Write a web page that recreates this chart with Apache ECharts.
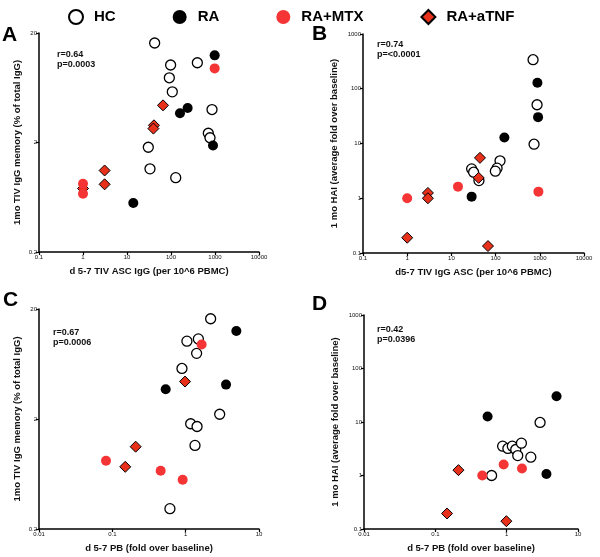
<!DOCTYPE html>
<html>
<head>
<meta charset="utf-8">
<script src="https://cdn.jsdelivr.net/npm/echarts@6/dist/echarts.min.js"></script>
<style>
  html, body { margin: 0; padding: 0; background: #fff; }
  #chart { width: 600px; height: 557px; }
</style>
</head>
<body>
<div id="chart"></div>
<script>
// group names (legend order)
const groups = ["HC", "RA", "RA+MTX", "RA+aTNF"];

// Panel A: ASC IgG (x) vs IgG memory % (y)
const aHC = [[42.5, 16.2], [98, 10.2], [91.6, 7.8], [107, 5.8], [397, 10.7], [855, 4.0],
  [705, 2.43], [770, 2.21], [30.5, 1.81], [33.3, 1.15], [128, 0.955]];
const aRA = [[983, 12.5], [160, 3.7], [239, 4.13], [901, 1.88], [13.9, 0.56]];
const aMTX = [[983, 9.5], [1, 0.84], [1, 0.68]];
const aTNF = [[65.8, 4.37], [41, 2.87], [39.8, 2.68], [3.1, 1.11], [3.1, 0.83], [1, 0.76]];

// Panel B: ASC IgG (x) vs HAI fold (y)
const bHC = [[704, 339], [867, 51], [741, 9.7], [28.7, 3.44], [31.8, 2.99], [42, 2.1],
  [126, 4.82], [108, 3.54], [98.6, 3.12]];
const bRA = [[883, 129], [914, 30.3], [158, 12.9], [28.7, 1.07]];
const bMTX = [[1, 1.0], [14.1, 1.63], [930, 1.32]];
const bTNF = [[44.3, 5.47], [41.3, 2.36], [2.94, 1.25], [2.94, 1.0], [1, 0.19], [67.3, 0.134]];

// Panel C: PB fold (x) vs IgG memory % (y)
const cHC = [[2.19, 16.3], [1.04, 10.2], [1.49, 10.7], [1.41, 7.9], [0.89, 5.76], [2.91, 2.21],
  [1.17, 1.81], [1.43, 1.71], [1.34, 1.15], [0.61, 0.306]];
const cRA = [[4.91, 12.6], [0.534, 3.73], [3.55, 4.11]];
const cMTX = [[1.65, 9.5], [0.082, 0.834], [0.456, 0.676], [0.91, 0.56]];
const cTNF = [[0.98, 4.38], [0.208, 1.12], [0.15, 0.735]];

// Panel D: PB fold (x) vs HAI fold (y)
const dHC = [[2.94, 9.8], [0.878, 3.53], [1.04, 3.2], [1.2, 3.53], [1.34, 3.06], [1.43, 2.36],
  [1.61, 4.02], [2.18, 2.2], [0.615, 1.0]];
const dRA = [[5.0, 30.4], [0.54, 12.7], [3.61, 1.07]];
const dMTX = [[0.455, 1.0], [0.907, 1.61], [1.64, 1.35]];
const dTNF = [[0.211, 1.26], [0.146, 0.195], [0.99, 0.14]];

const panels = [
  { letter: "A", stats: "r=0.64\np=0.0003", data: [aHC, aRA, aMTX, aTNF],
    xMin: 0.1, xMax: 10000, yMin: 0.2, yMax: 20,
    xName: "d 5-7 TIV ASC IgG (per 10^6 PBMC)", yName: "1mo TIV IgG memory (% of total IgG)" },
  { letter: "B", stats: "r=0.74\np=<0.0001", data: [bHC, bRA, bMTX, bTNF],
    xMin: 0.1, xMax: 10000, yMin: 0.1, yMax: 1000,
    xName: "d5-7 TIV IgG ASC (per 10^6 PBMC)", yName: "1 mo HAI (average fold over baseline)" },
  { letter: "C", stats: "r=0.67\np=0.0006", data: [cHC, cRA, cMTX, cTNF],
    xMin: 0.01, xMax: 10, yMin: 0.2, yMax: 20,
    xName: "d 5-7 PB (fold over baseline)", yName: "1mo TIV IgG memory (% of total IgG)" },
  { letter: "D", stats: "r=0.42\np=0.0396", data: [dHC, dRA, dMTX, dTNF],
    xMin: 0.01, xMax: 10, yMin: 0.1, yMax: 1000,
    xName: "d 5-7 PB (fold over baseline)", yName: "1 mo HAI (average fold over baseline)" }
];

const grids = [
  { left: 39, top: 33, width: 220, height: 219 },
  { left: 363, top: 34, width: 221, height: 219 },
  { left: 39, top: 309, width: 220, height: 220 },
  { left: 364, top: 315, width: 214, height: 214 }
];
const letterPos = [[2, 25], [312, 24], [3, 290], [312, 294]];
const statsPos = [[57, 50], [377, 40], [53, 328], [377, 325]];
const yNameGap = [17, 24, 17, 24];

const styles = {
  "HC": { symbol: "circle", symbolSize: 10, itemStyle: { color: "#fff", borderColor: "#000", borderWidth: 1.3, opacity: 1 } },
  "RA": { symbol: "circle", symbolSize: 10, itemStyle: { color: "#000", opacity: 1 } },
  "RA+MTX": { symbol: "circle", symbolSize: 10, itemStyle: { color: "#f53535", opacity: 1 } },
  "RA+aTNF": { symbol: "diamond", symbolSize: 11, itemStyle: { color: "#e8311a", borderColor: "#000", borderWidth: 1, opacity: 1 } }
};
// draw order: diamonds under the red circles
const drawOrder = [0, 1, 3, 2];

const fmt = (v) => String(+Number(v).toPrecision(1));
const font = "Liberation Sans, Arial, Helvetica, sans-serif";

const axisCommon = {
  type: "log",
  logBase: 10,
  interval: 1,
  axisLine: { lineStyle: { color: "#000", width: 1.5 } },
  axisTick: { show: true, length: 3, lineStyle: { color: "#000", width: 1.2 } },
  minorTick: { show: false },
  splitLine: { show: false },
  nameLocation: "middle",
  nameTextStyle: { fontFamily: font, fontWeight: "bold", fontSize: 9.5, color: "#111" }
};

const xAxes = [], yAxes = [], series = [], graphics = [];
panels.forEach((p, i) => {
  xAxes.push(Object.assign({}, axisCommon, {
    gridIndex: i, min: p.xMin, max: p.xMax, name: p.xName, nameGap: 14,
    axisLabel: { fontSize: 6, fontFamily: font, color: "#111", margin: 2, formatter: fmt }
  }));
  yAxes.push(Object.assign({}, axisCommon, {
    gridIndex: i, min: p.yMin, max: p.yMax, name: p.yName, nameGap: yNameGap[i],
    axisLabel: { fontSize: 6, fontFamily: font, color: "#111", margin: 2, formatter: fmt }
  }));
  drawOrder.forEach((g) => {
    const name = groups[g];
    series.push(Object.assign({
      name: name,
      type: "scatter",
      xAxisIndex: i,
      yAxisIndex: i,
      data: p.data[g]
    }, styles[name]));
  });
  graphics.push({
    type: "text", left: letterPos[i][0], top: letterPos[i][1],
    style: { text: p.letter, font: "bold 21px " + font, fill: "#000" }
  });
  graphics.push({
    type: "text", left: statsPos[i][0], top: statsPos[i][1],
    style: { text: p.stats, font: "bold 9px " + font, fill: "#111", lineHeight: 10 }
  });
});

const chart = echarts.init(document.getElementById("chart"));
chart.setOption({
  animation: false,
  backgroundColor: "#fff",
  legend: {
    data: groups,
    left: 63,
    top: 4,
    itemWidth: 14,
    itemHeight: 14,
    itemGap: 57,
    textStyle: { fontFamily: font, fontWeight: "bold", fontSize: 15, color: "#000", padding: [0, 0, 0, 6] }
  },
  grid: grids,
  xAxis: xAxes,
  yAxis: yAxes,
  series: series,
  graphic: graphics
});
</script>
</body>
</html>
